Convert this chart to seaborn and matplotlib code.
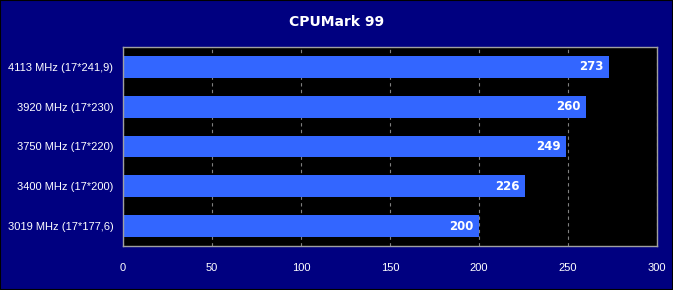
import matplotlib
matplotlib.use("Agg")
import matplotlib.pyplot as plt
import seaborn as sns
import pandas as pd
from matplotlib.ticker import MultipleLocator, FixedLocator

categories = ["4113 MHz (17*241,9)", "3920 MHz (17*230)", "3750 MHz (17*220)",
              "3400 MHz (17*200)", "3019 MHz (17*177,6)"]
scores = [273, 260, 249, 226, 200]
title = "CPUMark 99"

df = pd.DataFrame({"cfg": categories, "score": scores})

sns.set_style("dark")
plt.rcParams['font.family'] = ['Liberation Sans', 'DejaVu Sans']

bg = "#000080"
fig = plt.figure(figsize=(6.73, 2.90), dpi=100, facecolor=bg)
fig.patches.append(matplotlib.patches.Rectangle((0, 0), 1, 1, transform=fig.transFigure,
                                                 fill=False, edgecolor="black", lw=1.5))
ax = fig.add_axes([123/673, 44/290, 534/673, 199/290])
ax.set_facecolor("black")

sns.barplot(data=df, x="score", y="cfg", orient="h", color="#3366FF",
            saturation=1, width=0.55, ax=ax, edgecolor="none")

ax.set_xlim(0, 300)
ax.set_ylim(4.5, -0.5)
ax.xaxis.set_major_locator(MultipleLocator(50))
ax.xaxis.set_minor_locator(MultipleLocator(10))
ax.yaxis.set_major_locator(FixedLocator(range(5)))
ax.yaxis.set_minor_locator(FixedLocator([i + 0.5 for i in range(-1, 5)]))
ax.grid(False)
ax.grid(axis="x", which="major", color="#808080", linestyle=(0, (3, 3)), lw=0.8)
ax.set_axisbelow(True)

ax.tick_params(axis="x", which="major", colors="#A0A0A0", length=5, width=1,
               labelcolor="white", labelsize=8, direction="out", pad=7)
ax.tick_params(axis="x", which="minor", colors="#A0A0A0", length=3, width=1, direction="out")
ax.tick_params(axis="y", which="major", length=0, labelcolor="white", labelsize=8, pad=7)
ax.tick_params(axis="y", which="minor", colors="#A0A0A0", length=4, width=1, direction="out")
for s in ax.spines.values():
    s.set_color("#A0A0A0")
    s.set_linewidth(1)
ax.set_xlabel("")
ax.set_ylabel("")

for i, v in enumerate(scores):
    ax.text(v - 3, i, str(v), color="white", fontweight="bold", fontsize=8.5,
            family="DejaVu Sans", ha="right", va="center")

fig.text(0.5, 0.925, title, color="white", fontweight="bold", fontsize=10,
         family="DejaVu Sans", ha="center", va="center")

fig.savefig("out.png", dpi=100, facecolor=bg)
